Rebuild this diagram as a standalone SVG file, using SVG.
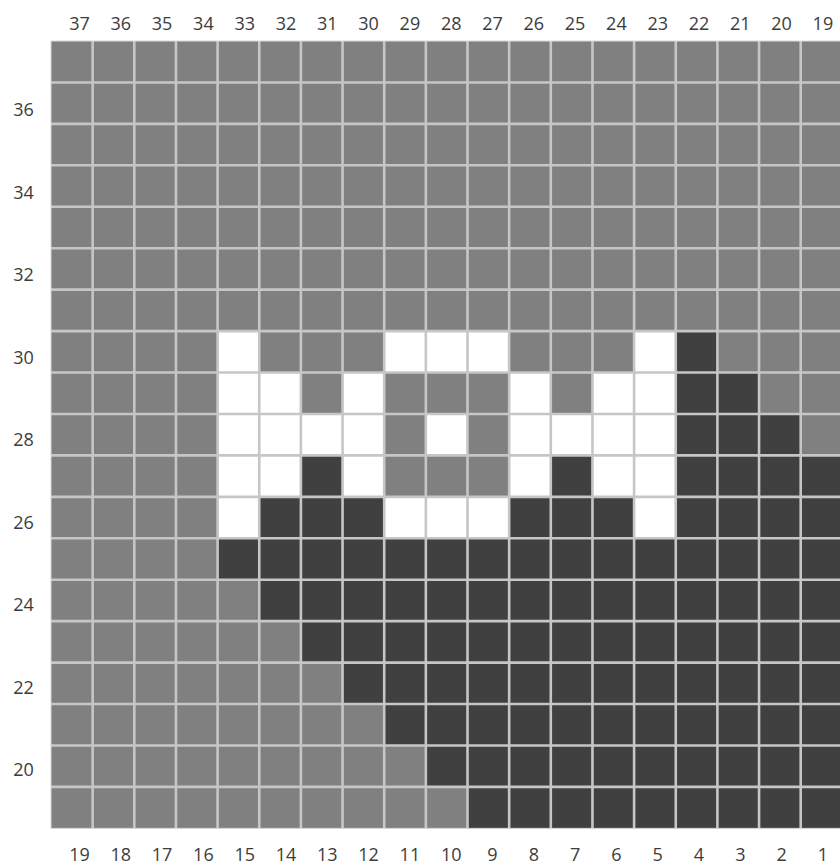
<svg xmlns="http://www.w3.org/2000/svg" width="840" height="866" viewBox="0 0 840 866">
<style>
.bg{fill:#ffffff}
.g{fill:#808080}
.d{fill:#404040}
.w{fill:#ffffff}
.ln{fill:none;stroke:#c6c6c6;stroke-width:2.6}
.lbl{font-family:"Open Sans","Liberation Sans",sans-serif;font-size:18px;fill:#3c3c3c;text-anchor:middle}
</style>
<rect class="bg" x="0" y="0" width="840" height="866"/>
<g id="chart">
<rect class="g" x="51" y="41" width="791.35" height="787.36"/>
<g id="dark-cells">
<rect class="d" x="675.75" y="331.08" width="41.65" height="41.44"/>
<rect class="d" x="675.75" y="372.52" width="83.3" height="41.44"/>
<rect class="d" x="675.75" y="413.96" width="124.95" height="41.44"/>
<rect class="d" x="300.9" y="455.4" width="41.65" height="41.44"/>
<rect class="d" x="550.8" y="455.4" width="41.65" height="41.44"/>
<rect class="d" x="675.75" y="455.4" width="166.6" height="41.44"/>
<rect class="d" x="259.25" y="496.84" width="124.95" height="41.44"/>
<rect class="d" x="509.15" y="496.84" width="124.95" height="41.44"/>
<rect class="d" x="675.75" y="496.84" width="166.6" height="41.44"/>
<polygon class="d" points="217.6,538.28 842.35,538.28 842.35,828.36 467.5,828.36 467.5,786.92 425.85,786.92 425.85,745.48 384.2,745.48 384.2,704.04 342.55,704.04 342.55,662.6 300.9,662.6 300.9,621.16 259.25,621.16 259.25,579.72 217.6,579.72"/>
</g>
<g id="white-cells">
<rect class="w" x="217.6" y="331.08" width="41.65" height="41.44"/>
<rect class="w" x="384.2" y="331.08" width="124.95" height="41.44"/>
<rect class="w" x="634.1" y="331.08" width="41.65" height="41.44"/>
<rect class="w" x="217.6" y="372.52" width="83.3" height="41.44"/>
<rect class="w" x="342.55" y="372.52" width="41.65" height="41.44"/>
<rect class="w" x="509.15" y="372.52" width="41.65" height="41.44"/>
<rect class="w" x="592.45" y="372.52" width="83.3" height="41.44"/>
<rect class="w" x="217.6" y="413.96" width="166.6" height="41.44"/>
<rect class="w" x="425.85" y="413.96" width="41.65" height="41.44"/>
<rect class="w" x="509.15" y="413.96" width="166.6" height="41.44"/>
<rect class="w" x="217.6" y="455.4" width="83.3" height="41.44"/>
<rect class="w" x="342.55" y="455.4" width="41.65" height="41.44"/>
<rect class="w" x="509.15" y="455.4" width="41.65" height="41.44"/>
<rect class="w" x="592.45" y="455.4" width="83.3" height="41.44"/>
<rect class="w" x="217.6" y="496.84" width="41.65" height="41.44"/>
<rect class="w" x="384.2" y="496.84" width="124.95" height="41.44"/>
<rect class="w" x="634.1" y="496.84" width="41.65" height="41.44"/>
</g>
<path id="grid-lines" class="ln" d="M92.65 41V828.36M134.3 41V828.36M175.95 41V828.36M217.6 41V828.36M259.25 41V828.36M300.9 41V828.36M342.55 41V828.36M384.2 41V828.36M425.85 41V828.36M467.5 41V828.36M509.15 41V828.36M550.8 41V828.36M592.45 41V828.36M634.1 41V828.36M675.75 41V828.36M717.4 41V828.36M759.05 41V828.36M800.7 41V828.36M51 82.44H842M51 123.88H842M51 165.32H842M51 206.76H842M51 248.2H842M51 289.64H842M51 331.08H842M51 372.52H842M51 413.96H842M51 455.4H842M51 496.84H842M51 538.28H842M51 579.72H842M51 621.16H842M51 662.6H842M51 704.04H842M51 745.48H842M51 786.92H842"/>
<rect x="51" y="41" width="791.35" height="787.36" fill="none" stroke="#d8d8d8" stroke-width="1"/>
</g>
<g id="top-labels">
<text class="lbl" x="79.5" y="30">37</text>
<text class="lbl" x="120.8" y="30">36</text>
<text class="lbl" x="162.1" y="30">35</text>
<text class="lbl" x="203.4" y="30">34</text>
<text class="lbl" x="244.7" y="30">33</text>
<text class="lbl" x="286" y="30">32</text>
<text class="lbl" x="327.3" y="30">31</text>
<text class="lbl" x="368.6" y="30">30</text>
<text class="lbl" x="409.9" y="30">29</text>
<text class="lbl" x="451.2" y="30">28</text>
<text class="lbl" x="492.5" y="30">27</text>
<text class="lbl" x="533.8" y="30">26</text>
<text class="lbl" x="575.1" y="30">25</text>
<text class="lbl" x="616.4" y="30">24</text>
<text class="lbl" x="657.7" y="30">23</text>
<text class="lbl" x="699" y="30">22</text>
<text class="lbl" x="740.3" y="30">21</text>
<text class="lbl" x="781.6" y="30">20</text>
<text class="lbl" x="822.9" y="30">19</text>
</g>
<g id="bottom-labels">
<text class="lbl" x="79.5" y="861">19</text>
<text class="lbl" x="120.8" y="861">18</text>
<text class="lbl" x="162.1" y="861">17</text>
<text class="lbl" x="203.4" y="861">16</text>
<text class="lbl" x="244.7" y="861">15</text>
<text class="lbl" x="286" y="861">14</text>
<text class="lbl" x="327.3" y="861">13</text>
<text class="lbl" x="368.6" y="861">12</text>
<text class="lbl" x="409.9" y="861">11</text>
<text class="lbl" x="451.2" y="861">10</text>
<text class="lbl" x="492.5" y="861">9</text>
<text class="lbl" x="533.8" y="861">8</text>
<text class="lbl" x="575.1" y="861">7</text>
<text class="lbl" x="616.4" y="861">6</text>
<text class="lbl" x="657.7" y="861">5</text>
<text class="lbl" x="699" y="861">4</text>
<text class="lbl" x="740.3" y="861">3</text>
<text class="lbl" x="781.6" y="861">2</text>
<text class="lbl" x="822.9" y="861">1</text>
</g>
<g id="left-labels">
<text class="lbl" x="23.5" y="116">36</text>
<text class="lbl" x="23.5" y="198.5">34</text>
<text class="lbl" x="23.5" y="281">32</text>
<text class="lbl" x="23.5" y="363.5">30</text>
<text class="lbl" x="23.5" y="446">28</text>
<text class="lbl" x="23.5" y="528.5">26</text>
<text class="lbl" x="23.5" y="611">24</text>
<text class="lbl" x="23.5" y="693.5">22</text>
<text class="lbl" x="23.5" y="776">20</text>
</g>
</svg>
